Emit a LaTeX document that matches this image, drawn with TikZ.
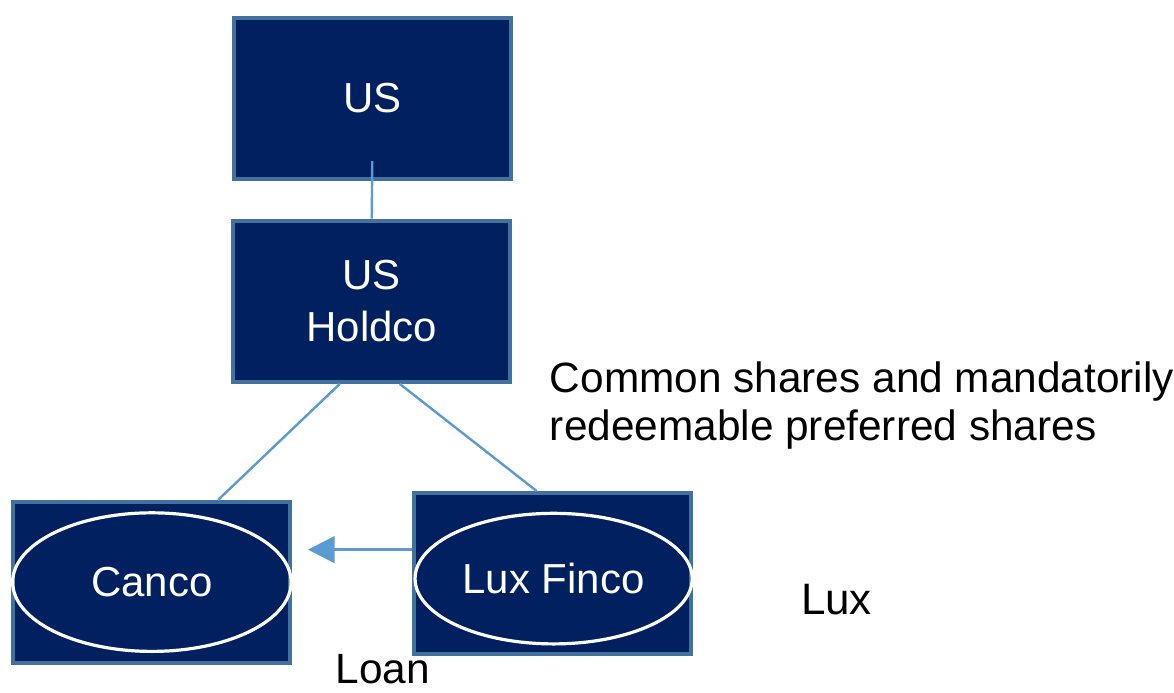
\documentclass[tikz,border=0pt]{standalone}
\usepackage{fontspec}
\setmainfont{Liberation Sans}
\usetikzlibrary{arrows.meta,shapes.geometric}
\definecolor{navy}{HTML}{002060}
\definecolor{edge}{HTML}{41719C}
\definecolor{link}{HTML}{5B9BD5}
\begin{document}
\begin{tikzpicture}[x=0.75pt, y=0.75pt,
  entity/.style={draw=edge, fill=navy, line width=3pt, minimum width=208pt, minimum height=121pt,
    inner sep=0pt, text=white, align=center, font=\fontsize{31.5}{39}\selectfont},
  oval/.style={ellipse, draw=white, line width=2.4pt, inner sep=0pt, text=white,
    font=\fontsize{31.5}{39}\selectfont},
  tie/.style={draw=link, line width=1.8pt},
  note/.style={inner sep=0pt, font=\fontsize{31.8}{35.5}\selectfont}]
\path (0,0) rectangle (1174,693);
\node[entity] (us) at (372.5,594.5) {US};
\node[entity] (hold) at (372,391.5) {US\\Holdco};
\node[entity] (canco) at (151.5,110) {};
\node[entity] (lux) at (553,119) {};
\node[oval, minimum width=209pt, minimum height=104pt] (cancooval) at (152,110.5) {Canco};
\node[oval, minimum width=208pt, minimum height=98pt] (luxoval) at (554,114) {Lux Finco};
\node[note, anchor=north west, align=left] (shares) at (550,331) {Common shares and mandatorily\\redeemable preferred shares};
\node[note, font=\fontsize{33}{35}\selectfont] (luxlbl) at (837,93) {Lux};
\node[note] (loan) at (383,23) {Loan};
\draw[tie] ([yshift=15pt]us.south) -- (hold.north);
\draw[tie] ([xshift=-24pt]hold.south) -- ([xshift=50pt]canco.north);
\draw[tie] ([xshift=21pt]hold.south) -- ([xshift=-12pt]lux.north);
\draw[tie, -{Triangle[length=20pt, width=20pt]}, shorten >=12pt] (lux.west |- 0,143) -- (canco.east |- 0,143);
\end{tikzpicture}
\end{document}
